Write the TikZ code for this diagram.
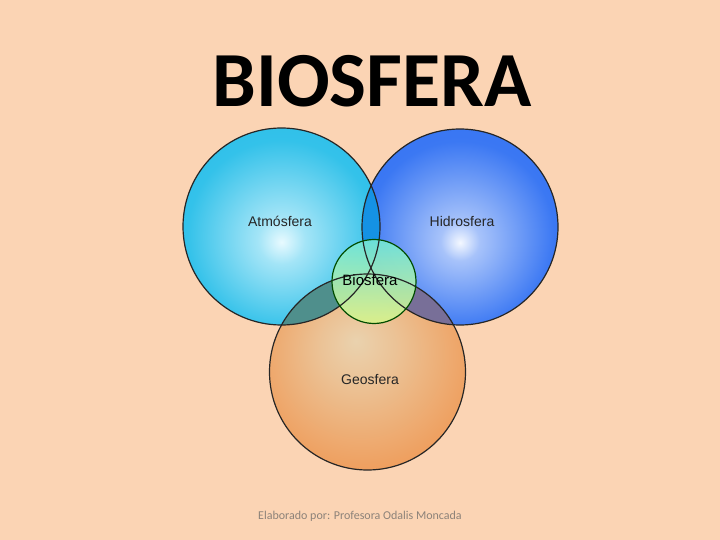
\documentclass[tikz,border=0pt]{standalone}
\usepackage{fontspec}
\setmainfont{Carlito}
\newfontfamily\lab{Liberation Sans}
\usetikzlibrary{shadings}
\definecolor{bg}{HTML}{FBD4B4}
\definecolor{atmE}{HTML}{24BDE8}
\definecolor{atmC}{HTML}{E8FAFF}
\definecolor{hidE}{HTML}{2A6CF2}
\definecolor{hidC}{HTML}{F4F8FF}
\definecolor{geoE}{HTML}{EF9C5A}
\definecolor{geoC}{HTML}{EAD2AE}
\definecolor{ahC}{HTML}{1592E4}
\definecolor{agC}{HTML}{4F8F8C}
\definecolor{hgC}{HTML}{786F98}
\definecolor{bioT}{HTML}{72E6D8}
\definecolor{bioB}{HTML}{DAF28A}
\definecolor{foot}{HTML}{8C8279}
\pgfdeclareradialshading{atmsh}{\pgfpoint{0bp}{-4bp}}{color(0bp)=(atmC); color(6bp)=(atmC!65!atmE); color(24bp)=(atmE!93!white); color(50bp)=(atmE)}
\pgfdeclareradialshading{hidsh}{\pgfpoint{0bp}{-4bp}}{color(0bp)=(hidC); color(5bp)=(hidC!62!hidE); color(24bp)=(hidE!92!white); color(50bp)=(hidE)}
\pgfdeclareradialshading{geosh}{\pgfpoint{-3bp}{8bp}}{color(0bp)=(geoC); color(10bp)=(geoC!70!geoE); color(30bp)=(geoE); color(50bp)=(geoE!96!black)}
\tikzset{
  ring/.style={draw=black!85, line width=1.2bp},
  lbl/.style={font=\lab\fontsize{14bp}{16bp}\selectfont, text=black!85, anchor=base, inner sep=0pt},
}
\begin{document}
\begin{tikzpicture}[x=1bp,y=-1bp]
\fill[bg] (0,0) rectangle (720,540);
\useasboundingbox (0,0) rectangle (720,540);
% circle geometry
\coordinate (ca) at (281.5,226.5);
\coordinate (ch) at (460,227);
\coordinate (cg) at (367.5,372);
\coordinate (cb) at (374,281.5);
\def\ra{98.5}\def\rh{98}\def\rg{98}\def\rb{42}
% base fills
\shade[shading=atmsh] (ca) circle[radius=\ra];
\shade[shading=hidsh] (ch) circle[radius=\rh];
\shade[shading=geosh] (cg) circle[radius=\rg];
% overlaps
\begin{scope}
  \clip (ca) circle[radius=\ra];
  \fill[ahC] (ch) circle[radius=\rh];
  \fill[agC] (cg) circle[radius=\rg];
\end{scope}
\begin{scope}
  \clip (ch) circle[radius=\rh];
  \fill[hgC] (cg) circle[radius=\rg];
\end{scope}
% biosfera
\shade[top color=bioT, bottom color=bioB, fill opacity=0.92] (cb) circle[radius=\rb];
% outlines
\draw[ring] (ca) circle[radius=\ra];
\draw[ring] (ch) circle[radius=\rh];
\draw[ring] (cg) circle[radius=\rg];
\draw[ring, draw=black!70!green] (cb) circle[radius=\rb];
% labels
\node[lbl] (atm) at (280,227) {Atmósfera};
\node[lbl] (hid) at (462,227) {Hidrosfera};
\node[lbl, font=\lab\fontsize{15bp}{17bp}\selectfont, text=black] (bio) at (370,286) {Biosfera};
\node[lbl] (geo) at (370,384) {Geosfera};
% title and footer
\node[anchor=base, inner sep=0pt, font=\bfseries\fontsize{78bp}{82bp}\selectfont] (title) at (372,107) {BIOSFERA};
\node[anchor=base, inner sep=0pt, text=foot, font=\fontsize{12bp}{14bp}\selectfont] (footer) at (360,519.5) {Elaborado por: Profesora Odalis Moncada};
\end{tikzpicture}
\end{document}
